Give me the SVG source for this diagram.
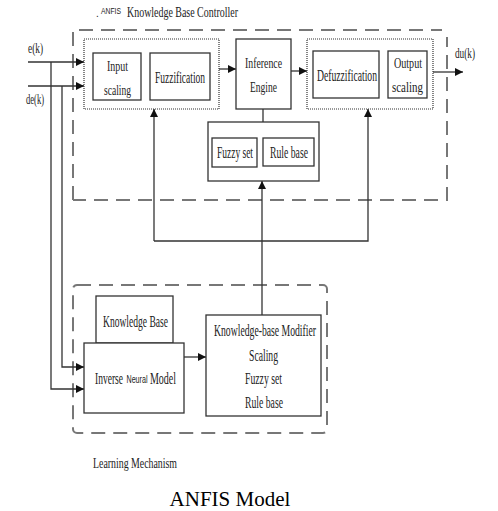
<svg xmlns="http://www.w3.org/2000/svg" width="498" height="511" viewBox="0 0 498 511">
<defs>
<style>
.t{font-family:"Liberation Serif","Times New Roman",serif;font-size:16px;fill:#222;text-anchor:middle}
.s15{font-size:15px}
.box{fill:#fff;stroke:#333;stroke-width:1.3}
.dot{fill:none;stroke:#333;stroke-width:1.2;stroke-dasharray:1 1}
.dash{fill:none;stroke:#777;stroke-width:2;stroke-dasharray:14 8}
.ln{fill:none;stroke:#333;stroke-width:1.3}
</style>
<marker id="ar" viewBox="0 0 10 10" refX="10" refY="5" markerWidth="8" markerHeight="8" markerUnits="userSpaceOnUse" orient="auto">
<path d="M0,0 L10,5 L0,10 z" fill="#111"/>
</marker>
</defs>
<rect width="498" height="511" fill="#fff"/>

<g id="title">
<text x="96" y="17" style="font-family:'Liberation Sans',sans-serif;font-size:10px;fill:#222">.</text>
<text class="t" style="font-family:'Liberation Sans',sans-serif;font-size:9px" transform="translate(111,14) scale(0.75,1)" textLength="26.7" lengthAdjust="spacingAndGlyphs">ANFIS</text>
<text class="t s15" transform="translate(182.5,16.5) scale(0.66,1)" textLength="168" lengthAdjust="spacingAndGlyphs">Knowledge Base Controller</text>
</g>

<g id="controller-frame">
<path class="dash" d="M73,200 V30 H442"/>
<path class="dash" d="M447,37 V200 H73" stroke-dashoffset="4"/>
</g>
<g id="learning-frame">
<rect class="dash" x="73" y="285" width="254" height="148" rx="4"/>
</g>

<g id="connectors">
<line class="ln" x1="28" y1="62" x2="84" y2="62" marker-end="url(#ar)"/>
<line class="ln" x1="28" y1="86" x2="84" y2="86" marker-end="url(#ar)"/>
<path class="ln" d="M51,62 V389 H84" marker-end="url(#ar)"/>
<path class="ln" d="M62,86 V367 H84" marker-end="url(#ar)"/>
<line class="ln" x1="219" y1="69" x2="236" y2="69" marker-end="url(#ar)"/>
<line class="ln" x1="291" y1="71" x2="307" y2="71" marker-end="url(#ar)"/>
<line class="ln" x1="433" y1="72" x2="463" y2="72" marker-end="url(#ar)"/>
<line class="ln" x1="263" y1="109" x2="263" y2="122"/>
<path class="ln" d="M154,241 V109" marker-end="url(#ar)"/>
<path class="ln" d="M154,241 H368 V109" marker-end="url(#ar)"/>
<line class="ln" x1="262" y1="315" x2="262" y2="181" marker-end="url(#ar)"/>
<line class="ln" x1="184" y1="357" x2="206" y2="357" marker-end="url(#ar)"/>
</g>

<g id="labels">
<text class="t s15" transform="translate(35.5,52.5) scale(0.62,1)" textLength="24.2" lengthAdjust="spacingAndGlyphs">e(k)</text>
<text class="t s15" transform="translate(35,103.5) scale(0.62,1)" textLength="29" lengthAdjust="spacingAndGlyphs">de(k)</text>
<text class="t s15" transform="translate(465,57.5) scale(0.62,1)" textLength="32.3" lengthAdjust="spacingAndGlyphs">du(k)</text>
</g>

<g id="fuzzifier-group">
<rect class="dot" x="84" y="39" width="135" height="70"/>
</g>
<g id="input-scaling">
<rect class="box" x="93" y="53" width="48" height="47"/>
<text class="t s15" transform="translate(117.5,70.5) scale(0.62,1)" textLength="33.9" lengthAdjust="spacingAndGlyphs">Input</text>
<text class="t s15" transform="translate(117.5,94.5) scale(0.62,1)" textLength="43.5" lengthAdjust="spacingAndGlyphs">scaling</text>
</g>
<g id="fuzzification">
<rect class="box" x="150" y="53" width="60" height="47"/>
<text class="t" transform="translate(180,83) scale(0.62,1)" textLength="80.6" lengthAdjust="spacingAndGlyphs">Fuzzification</text>
</g>
<g id="inference-engine">
<rect class="box" x="236" y="39" width="55" height="70"/>
<text class="t s15" transform="translate(263.5,68) scale(0.62,1)" textLength="59.7" lengthAdjust="spacingAndGlyphs">Inference</text>
<text class="t s15" transform="translate(263.5,92) scale(0.62,1)" textLength="43.5" lengthAdjust="spacingAndGlyphs">Engine</text>
</g>
<g id="defuzzifier-group">
<rect class="dot" x="307" y="39" width="126" height="70"/>
</g>
<g id="defuzzification">
<rect class="box" x="313" y="51" width="66" height="47"/>
<text class="t" transform="translate(347,81) scale(0.62,1)" textLength="96.8" lengthAdjust="spacingAndGlyphs">Defuzzification</text>
</g>
<g id="output-scaling">
<rect class="box" x="388" y="51" width="39" height="47"/>
<text class="t s15" transform="translate(408,68) scale(0.62,1)" textLength="45.2" lengthAdjust="spacingAndGlyphs">Output</text>
<text class="t s15" transform="translate(407.5,92) scale(0.62,1)" textLength="50" lengthAdjust="spacingAndGlyphs">scaling</text>
</g>
<g id="knowledge-store">
<rect class="box" x="208" y="122" width="111" height="59"/>
</g>
<g id="fuzzy-set">
<rect class="box" x="212" y="138" width="45" height="29"/>
<text class="t" transform="translate(235,158) scale(0.62,1)" textLength="58" lengthAdjust="spacingAndGlyphs">Fuzzy set</text>
</g>
<g id="rule-base">
<rect class="box" x="263" y="138" width="51" height="28"/>
<text class="t" transform="translate(289,158) scale(0.62,1)" textLength="61.3" lengthAdjust="spacingAndGlyphs">Rule base</text>
</g>

<g id="knowledge-base">
<rect class="box" x="96" y="296" width="77" height="47"/>
<text class="t" transform="translate(135.5,327) scale(0.62,1)" textLength="104.8" lengthAdjust="spacingAndGlyphs">Knowledge Base</text>
</g>
<g id="inverse-neural-model">
<rect class="box" x="84" y="343" width="100" height="70"/>
<text class="t" transform="translate(109,384) scale(0.62,1)" textLength="45.2" lengthAdjust="spacingAndGlyphs">Inverse</text>
<text class="t" style="font-family:'Liberation Sans',sans-serif;font-size:10px" transform="translate(137,383) scale(0.72,1)" textLength="29.2" lengthAdjust="spacingAndGlyphs">Neural</text>
<text class="t" transform="translate(163,384) scale(0.62,1)" textLength="41.9" lengthAdjust="spacingAndGlyphs">Model</text>
</g>
<g id="kb-modifier">
<rect class="box" x="206" y="315" width="115" height="101"/>
<text class="t" transform="translate(265,335.5) scale(0.62,1)" textLength="164.5" lengthAdjust="spacingAndGlyphs">Knowledge-base Modifier</text>
<text class="t" transform="translate(263.5,360.5) scale(0.62,1)" textLength="46.8" lengthAdjust="spacingAndGlyphs">Scaling</text>
<text class="t" transform="translate(263.5,383.5) scale(0.62,1)" textLength="59.7" lengthAdjust="spacingAndGlyphs">Fuzzy set</text>
<text class="t" transform="translate(264,407.5) scale(0.62,1)" textLength="61.3" lengthAdjust="spacingAndGlyphs">Rule base</text>
</g>

<g id="captions">
<text class="t s15" transform="translate(135,467.5) scale(0.62,1)" textLength="135.5" lengthAdjust="spacingAndGlyphs">Learning  Mechanism</text>
<text x="230" y="506" class="t" style="font-size:21px;fill:#000">ANFIS Model</text>
</g>
</svg>
